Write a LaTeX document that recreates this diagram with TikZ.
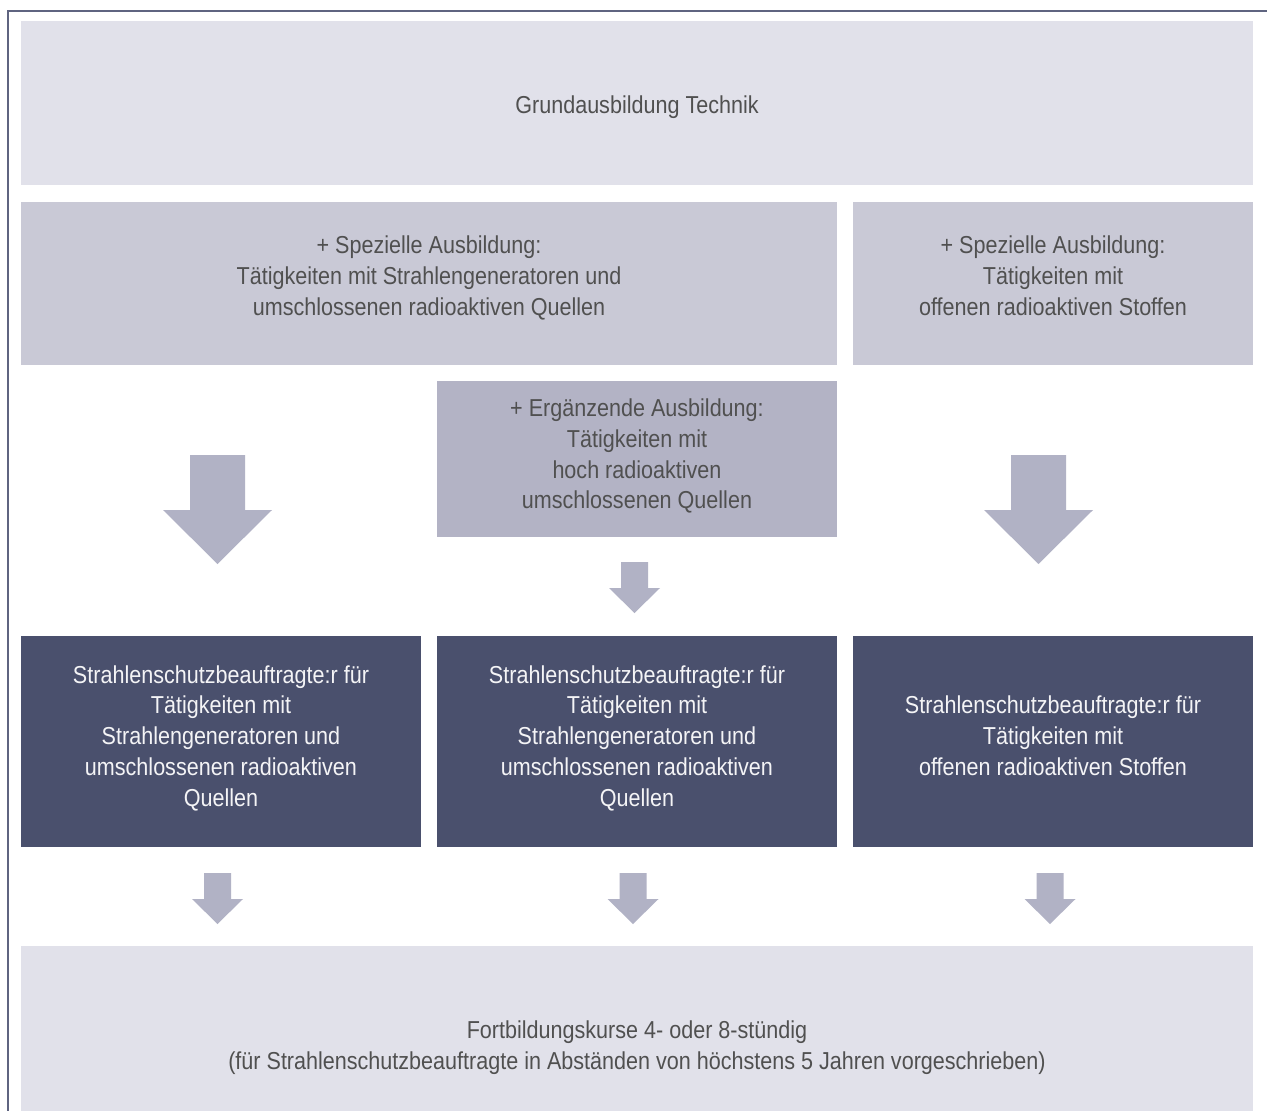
\documentclass[tikz,border=0pt]{standalone}
\usepackage{fontspec}
\setmainfont{Liberation Sans}[FakeStretch=0.88]
\definecolor{boxlight}{HTML}{E1E1EA}
\definecolor{boxmid}{HTML}{C9C9D6}
\definecolor{boxdeep}{HTML}{B3B3C5}
\definecolor{boxdark}{HTML}{4A506D}
\definecolor{arrowfill}{HTML}{B1B2C5}
\definecolor{framecol}{HTML}{5F6480}
\definecolor{textgrey}{HTML}{505050}
\definecolor{textwhite}{HTML}{F4F4F6}
\begin{document}
\begin{tikzpicture}[x=1pt,y=-1pt,
  panel/.style={fill=#1, draw=none, anchor=north west, inner sep=0pt, outer sep=0pt},
  label/.style={align=center, inner sep=0pt, text=textgrey, yshift=-3.5pt,
    font=\fontsize{24.5}{30.8}\selectfont,
    execute at begin node=\strut, execute at end node=\strut},
  darklabel/.style={label, text=textwhite},
  bigarrow/.pic={\fill[arrowfill] (-27.5,0) -- (27.5,0) -- (27.5,55) -- (54.5,55)
      -- (0,109) -- (-54.5,55) -- (-27.5,55) -- cycle;},
  smallarrow/.pic={\fill[arrowfill] (-13.5,0) -- (13.5,0) -- (13.5,26) -- (25.5,26)
      -- (0,51) -- (-25.5,26) -- (-13.5,26) -- cycle;}
]
\useasboundingbox (0,0) rectangle (1267,1111);
\fill[white] (0,0) rectangle (1267,1111);

% outer frame (top and left edges)
\draw[framecol, line width=2pt] (7.5,1111) -- (7.5,10.5) -- (1267,10.5);

% panels
\node[panel=boxlight, minimum width=1232pt, minimum height=164pt] (basis) at (21,21) {};
\node[panel=boxmid, minimum width=816pt, minimum height=163pt] (specA) at (21,202) {};
\node[panel=boxmid, minimum width=400pt, minimum height=163pt] (specB) at (853,202) {};
\node[panel=boxdeep, minimum width=400pt, minimum height=156pt] (extra) at (437,381) {};
\node[panel=boxdark, minimum width=400pt, minimum height=211pt] (sbA) at (21,636) {};
\node[panel=boxdark, minimum width=400pt, minimum height=211pt] (sbB) at (437,636) {};
\node[panel=boxdark, minimum width=400pt, minimum height=211pt] (sbC) at (853,636) {};
\node[panel=boxlight, minimum width=1232pt, minimum height=166pt] (fort) at (21,946) {};

% texts
\node[label] (tbasis) at (637,104) {Grundausbildung Technik};
\node[label] (tspecA) at (429,277) {+ Spezielle Ausbildung:\\Tätigkeiten mit Strahlengeneratoren und\\umschlossenen radioaktiven Quellen};
\node[label] (tspecB) at (1053,277) {+ Spezielle Ausbildung:\\Tätigkeiten mit\\offenen radioaktiven Stoffen};
\node[label] (textra) at (637,455) {+ Ergänzende Ausbildung:\\Tätigkeiten mit\\hoch radioaktiven\\umschlossenen Quellen};
\node[darklabel] (tsbA) at (221,737) {Strahlenschutzbeauftragte:r für\\Tätigkeiten mit\\Strahlengeneratoren und\\umschlossenen radioaktiven\\Quellen};
\node[darklabel] (tsbB) at (637,737) {Strahlenschutzbeauftragte:r für\\Tätigkeiten mit\\Strahlengeneratoren und\\umschlossenen radioaktiven\\Quellen};
\node[darklabel] (tsbC) at (1053,737) {Strahlenschutzbeauftragte:r für\\Tätigkeiten mit\\offenen radioaktiven Stoffen};
\node[label] (tfort) at (637,1046) {Fortbildungskurse 4- oder 8-stündig\\(für Strahlenschutzbeauftragte in Abständen von höchstens 5 Jahren vorgeschrieben)};

% block arrows
\pic at (217.5,455) {bigarrow};
\pic at (1038.5,455) {bigarrow};
\pic at (634.5,562) {smallarrow};
\pic at (217.5,873) {smallarrow};
\pic at (633,873) {smallarrow};
\pic at (1050,873) {smallarrow};
\end{tikzpicture}
\end{document}
